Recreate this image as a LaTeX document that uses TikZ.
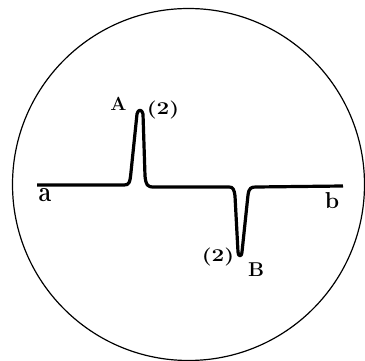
\documentclass[tikz,border=0pt]{standalone}
\usepackage{graphicx}
\begin{document}
\begin{tikzpicture}[x=1pt,y=-1pt,
  capA/.style={font=\fontsize{19}{21}\selectfont\bfseries, inner sep=0pt},
  capB/.style={font=\fontsize{20}{22}\selectfont\bfseries, inner sep=0pt},
  big/.style={font=\fontsize{23}{25}\selectfont\bfseries, inner sep=0pt},
  small/.style={font=\fontsize{18}{20}\selectfont\bfseries, inner sep=0pt},
  wave/.style={line width=3.2pt, line join=round}]
\useasboundingbox (0,0) rectangle (365,361);
\fill[white] (0,0) rectangle (365,361);
\draw[line width=1.2pt] (188.5,184.5) circle (176);
\draw[wave] (37,185) -- (124,185)
  .. controls (129,185) and (130,183) .. (131,172)
  -- (137,114) .. controls (138,109) and (142,109) .. (143,114)
  -- (145,176) .. controls (146,185) and (147,187) .. (154,187)
  -- (229,187) .. controls (233,187) and (234,189) .. (235,196)
  -- (238,252) .. controls (238,257) and (242,257) .. (242,252)
  -- (248,195) .. controls (249,188) and (251,187) .. (256,187)
  -- (343,186);
\node[big] (a) at (45,195) {\scalebox{1}[1.25]{a}};
\node[big] (b) at (332,201) {b};
\node[capA] (A) at (118.5,104) {A};
\node[small] (A2) at (163,110) {\scalebox{1.25}[1]{(2)}};
\node[small] (B2) at (218,257) {\scalebox{1.25}[1]{(2)}};
\node[capB] (B) at (256,270) {B};
\end{tikzpicture}
\end{document}
